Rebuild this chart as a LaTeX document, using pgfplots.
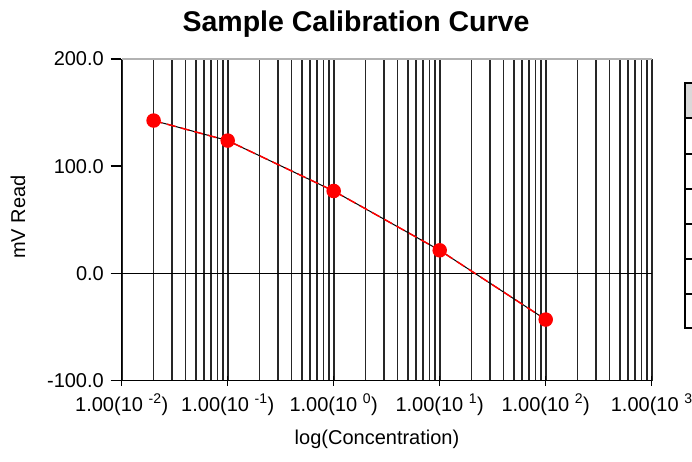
\documentclass[border=0pt]{standalone}
\usepackage{fontspec}
\setmainfont{Liberation Sans}
\usepackage{pgfplots}
\pgfplotsset{compat=1.18}
\begin{document}
\begin{tikzpicture}[x=1pt,y=1pt]
\useasboundingbox (0,0) rectangle (692,462);
\begin{axis}[
    at={(121.7pt,81.3pt)}, anchor=south west,
    scale only axis, width=530pt, height=321.7pt,
    xmode=log, xmin=0.01, xmax=1000,
    ymin=-100, ymax=200,
    axis x line*=bottom, axis y line*=left,
    axis line style={black, line width=1.5pt},
    xtick={0.01,0.1,1,10,100,1000},
    minor xtick={0.02,0.03,0.04,0.05,0.06,0.07,0.08,0.09,
                 0.2,0.3,0.4,0.5,0.6,0.7,0.8,0.9,
                 2,3,4,5,6,7,8,9,
                 20,30,40,50,60,70,80,90,
                 200,300,400,500,600,700,800,900},
    xticklabels={1.00(10 \textsuperscript{-2}),1.00(10 \textsuperscript{-1}),1.00(10 \textsuperscript{0}),
                 1.00(10 \textsuperscript{1}),1.00(10 \textsuperscript{2}),1.00(10 \textsuperscript{3}},
    ytick={-100,0,100,200},
    yticklabels={-100.0,0.0,100.0,200.0},
    tick align=center, major tick length=10pt, minor tick length=0pt,
    tick style={black, line width=1.5pt},
    ytick style={xshift=-6pt},
    xmajorgrids, xminorgrids,
    major grid style={black!85, line width=1.7pt},
    minor grid style={black!85, line width=1.7pt},
    ticklabel style={font=\fontsize{20}{24}\selectfont, inner sep=0pt},
    xticklabel style={anchor=base, yshift=-25.8pt},
    yticklabel style={anchor=east, xshift=-12.7pt},
    clip=false,
]
% zero line
\addplot[black, line width=1.5pt, forget plot] coordinates {(0.01,0) (1000,0)};

% calibration points: black line under red dashes
\addplot[black, line width=1pt] coordinates {
    (0.02,142.6) (0.1,123.9) (1,76.9) (10,21.6) (100,-43)
};
\addplot[red, line width=1.5pt, dash pattern=on 9pt off 5pt,
    mark=*, mark size=6.5pt, mark options={solid, fill=red, draw=red}] coordinates {
    (0.02,142.6) (0.1,123.9) (1,76.9) (10,21.6) (100,-43)
};

\draw[gray!60, line width=1.5pt] (rel axis cs:0,1) -- (rel axis cs:1,1);
\end{axis}

\node[anchor=base, font=\fontsize{28.5}{34}\selectfont\bfseries] at (356,430) {Sample Calibration Curve};
\node[rotate=90, anchor=base, font=\fontsize{20}{24}\selectfont] at (25,245) {mV Read};
\node[anchor=base, font=\fontsize{20}{24}\selectfont] at (377,17) {log(Concentration)};

% table box on the right (cut off)
\fill[gray!30] (685,379) rectangle (700,344);
\foreach \yy in {344,308,273,238,203,168} {
    \draw[line width=1.5pt] (685,\yy) -- (700,\yy);
}
\draw[line width=1.5pt] (700,379) -- (685,379) -- (685,134) -- (700,134);
\end{tikzpicture}
\end{document}
